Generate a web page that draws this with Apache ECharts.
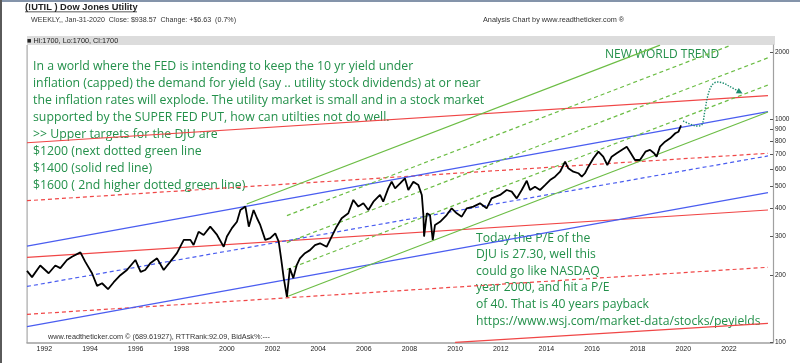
<!DOCTYPE html>
<html><head><meta charset="utf-8">
<script src="https://cdn.jsdelivr.net/npm/echarts@6/dist/echarts.min.js"></script>
<style>html,body{margin:0;padding:0;background:#fff}#c{width:800px;height:363px}</style>
</head><body><div id="c"></div>
<script>
// ---- data (decimal year, index value) ----
const priceYears = [1991.24,1991.46,1991.82,1992.19,1992.48,1992.70,1992.99,1993.21,1993.58,1993.79,1994.09,1994.31,1994.53,1994.79,1995.04,1995.33,1995.62,1995.99,1996.22,1996.42,1996.64,1996.94,1997.23,1997.52,1997.81,1998.11,1998.40,1998.54,1998.76,1998.98,1999.27,1999.57,1999.86,2000.00,2000.22,2000.44,2000.59,2000.81,2000.96,2001.17,2001.32,2001.46,2001.68,2001.90,2002.12,2002.27,2002.37,2002.49,2002.63,2002.76,2002.91,2003.06,2003.20,2003.42,2003.64,2003.86,2004.08,2004.37,2004.59,2004.81,2005.03,2005.32,2005.54,2005.76,2005.98,2006.20,2006.42,2006.71,2006.85,2007.07,2007.22,2007.37,2007.59,2007.80,2007.95,2008.17,2008.39,2008.54,2008.61,2008.64,2008.76,2008.90,2009.02,2009.12,2009.34,2009.63,2009.85,2010.07,2010.29,2010.51,2010.80,2011.09,2011.38,2011.60,2011.97,2012.26,2012.48,2012.70,2012.92,2013.14,2013.28,2013.50,2013.72,2013.94,2014.16,2014.38,2014.60,2014.82,2014.96,2015.18,2015.40,2015.55,2015.69,2015.84,2016.06,2016.28,2016.49,2016.67,2016.86,2017.08,2017.30,2017.52,2017.66,2017.88,2018.10,2018.34,2018.54,2018.72,2018.83,2018.98,2019.20,2019.42,2019.65,2019.79,2019.90];
const priceValues = [209,196,221,204,221,215,234,242,253,230,204,179,184,173,186,200,211,234,207,211,226,238,211,230,251,288,288,273,313,303,330,303,268,298,325,347,392,406,330,392,360,336,288,293,308,283,240,194,160,215,194,222,238,251,259,273,278,268,298,330,360,379,435,406,420,392,427,458,427,490,525,490,516,544,482,525,507,458,372,298,379,372,288,336,347,372,399,379,366,399,406,420,399,442,458,482,474,442,482,530,482,499,482,507,534,553,582,646,603,582,573,553,573,613,669,716,680,624,680,704,729,754,716,657,657,716,729,704,680,754,794,822,866,880,938.57];

// trend lines: [startYear, startValue, endYear, endValue]
const blueUpper    = [1991.24, 270,   2023.71, 1082];
const blueLower    = [1991.24, 117.5, 2023.71, 469];
const blueMid      = [1991.24, 178,   2023.71, 685];
const redUpper     = [1991.24, 785,   2023.71, 1276];
const redMid       = [1991.24, 240.5, 2023.71, 392];
const redBottom    = [2010.0,  100,   2023.71, 121.7];
const redDashUpper = [1991.24, 431.5, 2023.71, 704];
const redDashLower = [1991.24, 133.5, 2023.71, 217];
const greenUpper   = [2000.87, 417,   2018.98, 2150];
const greenLower   = [2002.62, 160,   2023.71, 1078];
const greenDash1   = [2002.63, 212,   2023.71, 1425];
const greenDash2   = [2002.63, 280,   2023.71, 1887];
const greenDash3   = [2002.63, 370,   2022.09, 2150];

// projected path (dotted arrow)
const projYears  = [2019.99,2020.29,2020.60,2020.82,2020.95,2021.08,2021.26,2021.48,2021.74,2022.00,2022.48];
const projValues = [983,953,933,948,1101,1285,1425,1470,1455,1411,1326];

const yearTicks  = [1992,1994,1996,1998,2000,2002,2004,2006,2008,2010,2012,2014,2016,2018,2020,2022];
const priceTicks = [100,200,300,400,500,600,700,800,900,1000,2000];

const noteLines = [
 'In a world where the FED is intending to keep the 10 yr yield under',
 'inflation (capped) the demand for yield (say .. utility stock dividends) at or near',
 'the inflation rates will explode. The utility market is small and in a stock market',
 'supported by the SUPER FED PUT, how can utilties not do well.',
 '>> Upper targets for the DJU are',
 '$1200 (next dotted green line',
 '$1400 (solid red line)',
 '$1600 ( 2nd higher dotted green line)'
];
const peLines = [
 'Today the P/E of the',
 'DJU is 27.30, well this',
 'could go like NASDAQ',
 'year 2000, and hit a P/E',
 'of 40. That is 40 years payback',
 'https://www.wsj.com/market-data/stocks/peyields'
];

// ---- build ----
const BLUE='#4a5df0', RED='#f04646', GREEN='#6cbd45', TXT='#23904a';
function seg(a, color, type){
  return {type:'line', data:[[a[0],a[1]],[a[2],a[3]]], symbol:'none', clip:true, silent:true,
    lineStyle:{color:color, width:1.2, type:type||'solid'}};
}
const price = priceYears.map((y,i)=>[y, priceValues[i]]);
const proj = projYears.map((y,i)=> i===projYears.length-1
  ? {value:[y, projValues[i]], symbol:'triangle', symbolSize:6, symbolRotate:-119, itemStyle:{color:'#1b8c6e'}}
  : [y, projValues[i]]);

const gfx = [
  {type:'rect', shape:{x:0,y:0,width:800,height:2}, style:{fill:'#8494aa'}},
  {type:'rect', shape:{x:0,y:0,width:2,height:363}, style:{fill:'#5a5a5a'}},
  {type:'rect', shape:{x:27,y:36,width:748,height:9}, style:{fill:'#dcdcdc'}},
  {type:'rect', shape:{x:26.5,y:45,width:1.2,height:298}, style:{fill:'#a8a8a8'}},
  {type:'text', style:{text:'(!UTIL ) Dow Jones Utility', x:25, y:7, font:'bold 9.3px "Liberation Sans"', fill:'#222', verticalAlign:'middle'}},
  {type:'rect', shape:{x:25,y:11.5,width:112,height:0.8}, style:{fill:'#222'}},
  {type:'text', style:{text:'WEEKLY,, Jan-31-2020  Close: $938.57  Change: +$6.63  (0.7%)', x:31, y:20, font:'7.1px "Liberation Sans"', fill:'#333', verticalAlign:'middle'}},
  {type:'text', style:{text:'Analysis Chart by www.readtheticker.com \u00ae', x:483, y:20, font:'7.3px "Liberation Sans"', fill:'#333', verticalAlign:'middle'}},
  {type:'text', style:{text:'\u25a0 Hi:1700, Lo:1700, Cl:1700', x:27, y:40.5, font:'7.3px "Liberation Sans"', fill:'#222', verticalAlign:'middle'}},
  {type:'text', style:{text:'www.readtheticker.com \u00a9 (689.61927), RTTRank:92.09, BidAsk%:---', x:48, y:337, font:'7.3px "Liberation Sans"', fill:'#333', verticalAlign:'middle'}},
  {type:'text', style:{text:'NEW WORLD TREND', x:605, y:54.5, font:'12px "Open Sans"', fill:TXT, verticalAlign:'middle'}}
];
noteLines.forEach((t,i)=>gfx.push({type:'text', style:{text:t, x:33, y:66.7+i*16.9, font:'12.3px "Open Sans"', fill:TXT, verticalAlign:'middle'}}));
peLines.forEach((t,i)=>gfx.push({type:'text', style:{text:t, x:476, y:238.3+i*16.55, font:'12.2px "Open Sans"', fill:TXT, verticalAlign:'middle'}}));

const chart = echarts.init(document.getElementById('c'), null, {renderer:'canvas'});
chart.setOption({
  animation:false,
  backgroundColor:'#fff',
  grid:{left:27, right:27, top:45, bottom:20.7},
  xAxis:{type:'value', min:1991.24, max:2023.93,
    axisLine:{lineStyle:{color:'#a0a0a0', width:1.5}},
    axisTick:{show:false}, splitLine:{show:false},
    axisLabel:{customValues:yearTicks, formatter:v=>String(Math.round(v)), fontSize:7, color:'#222', margin:3, fontFamily:'Liberation Sans'}},
  yAxis:{type:'log', logBase:10, position:'right', min:100, max:2154,
    axisLine:{show:true, lineStyle:{color:'#a0a0a0', width:1.2}},
    axisTick:{show:true, inside:true, length:3, customValues:priceTicks, lineStyle:{color:'#555'}},
    axisLabel:{customValues:priceTicks, formatter:v=>String(Math.round(v)), fontSize:6.5, color:'#222', margin:2, fontFamily:'Liberation Sans'},
    splitLine:{show:false}},
  series:[
    seg(redBottom, RED), seg(redMid, RED), seg(redUpper, RED),
    seg(redDashLower, RED, [4,3]), seg(redDashUpper, RED, [4,3]),
    seg(blueLower, BLUE), seg(blueUpper, BLUE), seg(blueMid, BLUE, [4,3]),
    seg(greenUpper, GREEN), seg(greenLower, GREEN),
    seg(greenDash1, GREEN, [4,3]), seg(greenDash2, GREEN, [4,3]), seg(greenDash3, GREEN, [4,3]),
    {type:'line', data:price, symbol:'none', clip:true, lineStyle:{color:'#000', width:1.8}},
    {type:'line', data:proj, symbol:'none', showSymbol:true, smooth:0.35, clip:true,
      lineStyle:{color:'#1b8c6e', width:1.4, type:'dotted'}}
  ],
  graphic:gfx
});
</script></body></html>
